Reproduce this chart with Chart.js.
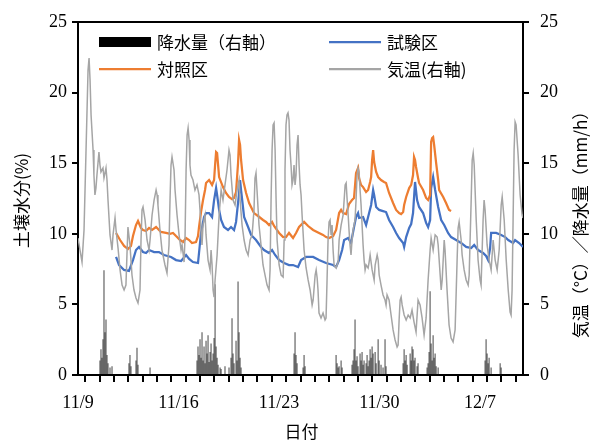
<!DOCTYPE html>
<html><head><meta charset="utf-8">
<script src="https://cdn.jsdelivr.net/npm/chart.js@4"></script>
<style>html,body{margin:0;padding:0;background:#fff}#wrap{width:591px;height:441px;position:relative}</style>
</head><body><div id="wrap"><canvas id="c"></canvas></div>
<script>
// x values are days since 11/9 00:00
const tickDays=[0,7,14,21,28];
const tickLabels=['11/9','11/16','11/23','11/30','12/7'];
const seriesNames=['降水量（右軸）','試験区','対照区','気温(右軸)'];
const axisTitles={left:'土壌水分(%)',right:'気温（°C）／降水量（mm/h）',bottom:'日付'};

// air temperature (°C), [day, value]
const airTemp=[[0,9.70],[.14,8.85],[.28,8.00],[.42,10.27],[.56,15.93],[.70,21.60],[.77,22.45],[.84,20.89],[.91,18.41],[1.05,15.93],[1.11,14.16],[1.18,12.75],[1.25,13.24],[1.32,14.16],[1.46,15.79],[1.53,14.87],[1.60,14.38],[1.74,14.66],[1.81,13.95],[1.95,14.66],[2.02,13.81],[2.09,12.39],[2.23,9.92],[2.37,8.85],[2.44,9.92],[2.58,11.12],[2.65,10.27],[2.79,8.99],[2.93,7.44],[3.07,6.37],[3.21,6.02],[3.34,6.37],[3.41,8.50],[3.48,10.48],[3.62,9.21],[3.76,7.08],[3.90,6.02],[4.04,5.45],[4.18,5.10],[4.32,6.02],[4.39,9.56],[4.46,11.69],[4.53,11.90],[4.67,10.98],[4.81,9.56],[4.95,8.85],[5.02,9.56],[5.16,11.33],[5.30,12.39],[5.44,13.10],[5.51,12.75],[5.57,12.04],[5.71,10.27],[5.85,8.85],[6.06,7.79],[6.20,7.22],[6.34,9.21],[6.41,12.39],[6.48,14.87],[6.55,15.44],[6.69,14.52],[6.76,13.10],[6.90,11.33],[7.04,9.92],[7.18,8.85],[7.25,9.21],[7.39,8.00],[7.46,9.92],[7.53,14.52],[7.60,16.99],[7.67,17.49],
[7.74,16.64],[7.80,14.87],[7.87,14.16],[8.01,13.81],[8.15,13.10],[8.29,13.46],[8.43,12.75],[8.50,11.69],[8.57,10.27],[8.64,9.21],[8.71,10.62],[8.85,11.33],[8.92,9.92],[9.06,8.14],[9.20,7.44],[9.27,8.85],[9.34,7.79],[9.41,6.02],[9.48,5.52],[9.55,6.73],[9.69,8.50],[9.83,11.33],[9.97,13.10],[10.10,12.39],[10.24,13.46],[10.38,14.52],[10.52,15.93],[10.59,15.58],[10.66,14.16],[10.80,12.39],[10.94,12.04],[11.08,13.10],[11.22,13.81],[11.29,12.39],[11.43,10.62],[11.57,9.56],[11.71,8.85],[11.85,8.50],[11.99,9.56],[12.13,9.92],[12.26,11.69],[12.33,13.95],[12.40,14.31],[12.47,13.10],[12.61,10.62],[12.75,9.21],[12.89,7.79],[13.03,7.08],[13.17,6.37],[13.31,6.02],[13.38,7.44],[13.45,12.39],[13.52,15.93],[13.59,17.71],[13.66,17.85],[13.73,15.93],[13.80,12.39],[13.87,9.56],[14.01,7.79],[14.15,7.08],[14.29,6.94],[14.36,9.56],[14.42,14.52],[14.49,17.71],[14.56,18.41],[14.63,18.56],[14.70,18.06],[14.77,15.93],[14.84,14.87],[14.91,13.46],[14.98,13.81],[15.05,14.87],[15.12,13.46],[15.19,14.16],[15.26,16.29],[15.33,17.00],
[15.40,14.87],[15.47,13.46],[15.54,12.75],[15.61,11.33],[15.75,8.85],[15.89,7.58],[16.03,6.73],[16.17,6.02],[16.31,4.96],[16.38,5.31],[16.52,7.08],[16.59,7.44],[16.66,6.87],[16.72,6.02],[16.79,4.39],[16.93,4.04],[17.07,4.39],[17.21,3.90],[17.28,4.04],[17.35,6.73],[17.42,9.56],[17.49,10.84],[17.56,10.98],[17.63,9.92],[17.70,10.62],[17.77,8.85],[17.84,7.79],[17.98,7.58],[18.12,8.00],[18.19,9.56],[18.33,10.62],[18.47,11.33],[18.54,12.39],[18.61,13.46],[18.68,13.60],[18.75,12.39],[18.82,11.33],[18.88,10.27],[18.95,9.21],[19.02,8.50],[19.09,9.56],[19.16,10.27],[19.23,10.62],[19.30,10.98],[19.37,12.39],[19.44,14.16],[19.51,14.66],[19.58,14.38],[19.65,13.10],[19.72,12.04],[19.79,10.62],[19.86,9.21],[19.93,8.14],[20.00,7.44],[20.07,7.79],[20.21,7.58],[20.28,8.00],[20.35,8.50],[20.49,7.44],[20.63,6.73],[20.70,7.79],[20.84,8.50],[20.91,8.14],[20.98,7.08],[21.11,6.37],[21.25,5.67],[21.39,5.31],[21.46,4.96],[21.53,5.67],[21.67,5.31],[21.81,4.25],[21.95,3.19],[22.09,2.48],[22.23,1.98],[22.30,2.12],[22.37,3.90],[22.44,5.31],[22.51,5.52],[22.58,4.96],[22.72,4.25],[22.86,3.90],[23.00,4.25],
[23.14,4.04],[23.27,4.60],[23.41,3.75],[23.55,3.05],[23.69,5.31],[23.83,4.96],[23.97,4.04],[24.11,2.83],[24.25,4.04],[24.39,6.73],[24.53,8.85],[24.60,9.70],[24.74,8.85],[24.88,9.92],[25.02,9.77],[25.09,9.21],[25.23,7.08],[25.30,6.02],[25.37,6.73],[25.51,9.56],[25.57,8.85],[25.71,6.02],[25.85,3.54],[25.99,2.62],[26.13,2.34],[26.27,3.19],[26.41,8.14],[26.48,10.41],[26.55,10.84],[26.69,9.56],[26.76,8.50],[26.90,7.44],[27.04,6.73],[27.18,6.37],[27.25,7.08],[27.39,12.39],[27.46,15.23],[27.53,15.72],[27.60,14.87],[27.74,10.98],[27.87,8.14],[28.01,6.73],[28.08,6.37],[28.22,10.98],[28.29,12.39],[28.36,11.69],[28.50,9.21],[28.64,8.14],[28.78,7.44],[28.92,9.56],[29.06,8.14],[29.20,7.44],[29.34,8.85],[29.48,12.04],[29.55,12.61],[29.69,10.98],[29.83,8.14],[29.97,6.02],[30.10,4.46],[30.17,4.25],[30.24,6.02],[30.31,10.98],[30.38,15.93],[30.45,17.92],[30.52,17.71],[30.66,15.58],[30.80,12.75],[30.94,11.33],[31.00,11.12]];

// 対照区 soil moisture (%)
const controlPlot=[[2.65,10.06],[2.93,9.56],[3.21,9.14],[3.48,8.92],[3.69,9.14],[3.83,9.84],[4.04,10.62],[4.18,10.91],[4.39,10.41],[4.53,10.27],[4.74,10.20],[4.95,10.41],[5.16,10.27],[5.44,10.48],[5.78,10.13],[6.13,10.06],[6.41,9.99],[6.62,10.06],[6.83,9.84],[7.11,9.56],[7.32,9.42],[7.53,9.70],[7.74,9.56],[7.94,9.35],[8.22,9.42],[8.36,9.84],[8.43,10.48],[8.57,11.54],[8.71,12.39],[8.85,13.10],[8.92,13.60],[9.13,13.81],[9.34,13.46],[9.48,13.81],[9.55,14.87],[9.62,15.79],[9.69,15.72],[9.76,14.87],[9.83,14.02],[10.10,13.31],[10.31,12.89],[10.52,12.61],[10.73,12.46],[10.87,12.54],[11.01,12.96],[11.15,15.01],[11.22,16.64],[11.29,16.29],[11.36,15.23],[11.50,13.81],[11.71,12.89],[11.92,12.18],[12.26,11.47],[12.54,11.26],[12.89,10.98],[13.10,10.84],[13.31,10.62],[13.52,10.84],[13.66,10.55],[14.01,10.06],[14.29,9.77],[14.49,9.77],[14.70,10.06],[14.98,9.70],[15.19,10.06],[15.40,10.48],[15.75,10.84],[16.03,10.55],[16.38,10.27],[16.79,10.06],[17.07,9.92],[17.28,9.77],[17.49,9.70],[17.77,9.84],[17.98,10.27],[18.19,11.47],[18.33,11.69],[18.47,11.47],[18.68,11.40],[18.88,12.11],[19.09,12.39],[19.23,12.54],[19.37,14.31],[19.51,14.66],[19.58,13.95],[19.72,13.46],[19.86,13.31],[20.07,12.96],[20.21,13.10],[20.35,13.67],[20.42,14.02],[20.49,15.23],[20.56,15.93],[20.63,15.08],[20.77,14.38],[20.91,14.02],[21.11,13.81],[21.32,13.67],[21.46,13.60],[21.67,12.89],[21.95,12.18],[22.16,11.69],[22.37,11.47],[22.51,11.40],[22.65,11.54],[22.72,12.04],[22.86,12.61],[23.07,13.24],[23.21,13.46],[23.34,14.16],[23.41,15.44],[23.48,15.23],[23.55,14.73],[23.69,13.95],[23.76,13.60],[24.04,13.10],[24.25,12.54],[24.39,12.39],[24.53,12.75],[24.60,16.50],[24.67,16.78],[24.74,16.85],[24.81,16.29],[24.95,15.01],[25.09,13.81],[25.16,13.10],[25.44,12.61],[25.64,12.18],[25.85,11.69],[25.99,11.61]];

// 試験区 soil moisture (%)
const testPlot=[[2.65,8.36],[2.86,7.79],[3.21,7.44],[3.55,7.37],[3.83,8.14],[4.04,8.85],[4.25,9.07],[4.53,8.71],[4.74,8.64],[4.95,8.85],[5.30,8.71],[5.64,8.71],[5.99,8.50],[6.48,8.36],[6.83,8.14],[7.18,8.07],[7.53,8.50],[7.74,8.22],[8.01,8.00],[8.36,7.93],[8.43,8.64],[8.57,10.06],[8.78,11.19],[8.92,11.47],[9.13,11.47],[9.34,11.19],[9.48,12.39],[9.62,13.24],[9.69,12.75],[9.83,11.69],[9.97,10.98],[10.17,10.48],[10.45,10.27],[10.66,10.48],[10.87,10.27],[11.01,10.84],[11.22,12.89],[11.29,13.81],[11.36,13.10],[11.57,11.19],[11.85,10.48],[12.06,9.92],[12.40,9.56],[12.75,9.07],[12.96,8.85],[13.31,8.64],[13.52,8.85],[13.73,8.50],[14.01,8.14],[14.36,7.93],[14.70,7.79],[14.98,7.79],[15.33,7.65],[15.54,8.14],[15.89,8.36],[16.38,8.36],[16.79,8.14],[17.28,7.93],[17.77,7.79],[17.98,7.65],[18.19,8.14],[18.40,8.85],[18.54,9.56],[18.82,9.70],[19.02,9.35],[19.23,10.48],[19.37,11.19],[19.51,11.47],[19.58,11.12],[19.86,11.19],[20.07,10.62],[20.28,11.47],[20.42,12.04],[20.56,13.10],[20.63,12.75],[20.77,11.90],[20.98,11.69],[21.25,11.61],[21.46,11.54],[21.67,10.98],[21.95,10.48],[22.16,10.06],[22.37,9.70],[22.65,9.35],[22.72,9.07],[22.86,9.77],[23.07,10.41],[23.21,10.69],[23.34,11.47],[23.48,13.67],[23.62,12.39],[23.76,11.90],[24.04,11.47],[24.25,10.77],[24.39,10.48],[24.53,10.98],[24.60,13.24],[24.74,14.02],[24.88,13.10],[25.09,11.90],[25.30,10.98],[25.51,10.62],[25.78,10.06],[25.99,9.77],[26.34,9.56],[26.69,9.35],[27.04,9.07],[27.39,8.99],[27.60,9.21],[27.87,8.85],[28.22,8.64],[28.43,8.43],[28.57,8.14],[28.71,8.99],[28.78,10.06],[29.13,10.06],[29.48,9.92],[29.76,9.77],[29.97,9.56],[30.31,9.35],[30.45,9.56],[30.73,9.35],[31.00,9.07]];

// hourly precipitation (mm/h)
const rainfall=[[1.53,1.0],[1.60,1.8],[1.67,1.2],[1.74,2.5],[1.81,7.4],[1.88,3.0],[1.95,3.9],[2.02,1.4],[2.09,0.8],[2.23,0.5],[2.37,0.6],
[3.55,0.8],[3.62,1.4],[3.69,0.6],[4.04,1.0],[4.11,1.9],[4.18,0.7],[5.02,0.5],
[8.29,1.0],[8.36,2.0],[8.43,1.4],[8.50,2.5],[8.57,1.2],[8.64,3.0],[8.71,1.0],[8.78,2.0],[8.85,0.8],[8.92,2.4],[8.99,1.5],[9.06,2.8],[9.13,0.9],[9.20,1.6],[9.27,2.2],[9.34,1.0],[9.41,1.5],[9.48,2.6],[9.55,6.4],[9.62,2.0],[9.69,1.2],[9.76,0.7],[9.90,0.5],[9.97,0.4],[10.24,0.6],[10.52,0.5],[10.66,1.2],[10.73,4.0],[10.80,1.5],[10.87,0.8],[11.01,2.4],[11.08,1.0],[11.15,6.6],[11.22,3.0],[11.29,1.2],[11.36,0.5],
[15.05,1.5],[15.12,3.0],[15.19,1.4],[15.26,0.8],[15.68,0.5],[15.75,1.4],[15.82,0.6],
[17.98,1.4],[18.05,0.8],[18.12,0.5],[18.19,0.6],[18.33,1.0],[18.40,0.5],[19.09,0.7],[19.16,1.0],[19.23,1.8],[19.30,3.9],[19.37,1.0],[19.44,1.3],[19.51,0.6],[19.65,1.5],[19.72,1.0],[19.79,1.6],[19.86,0.7],[19.93,1.0],[20.07,0.8],[20.14,1.4],[20.21,0.6],[20.28,1.0],[20.35,1.8],[20.42,1.2],[20.49,2.0],[20.56,1.5],[20.70,1.6],[20.77,0.8],[20.91,2.5],[20.98,1.0],[21.11,0.7],[21.25,0.5],[21.39,2.5],[21.46,0.6],
[22.65,0.8],[22.72,1.8],[22.79,1.0],[22.86,1.4],[22.93,0.7],[23.14,1.5],[23.21,1.0],[23.27,2.0],[23.34,1.8],[23.41,1.0],[23.48,1.2],[23.62,0.6],[23.69,0.8],[24.32,0.5],[24.39,0.8],[24.46,1.6],[24.53,5.9],[24.60,2.2],[24.67,1.0],[24.74,2.8],[24.81,1.2],[24.88,1.5],[24.95,0.6],[25.09,0.5],
[28.36,1.0],[28.43,2.5],[28.50,1.5],[28.57,0.8],[28.64,1.2],[28.78,0.5],[29.41,0.8],[29.48,0.5]];

const toXY=a=>a.map(p=>({x:p[0],y:p[1]}));
const FONT="'Liberation Serif','Noto Sans CJK JP',serif";
const JFONT="'Noto Sans CJK JP','Liberation Serif',sans-serif";
const COLORS={rain:'#000000',test:'#4472c4',ctrl:'#ed7d31',temp:'#a5a5a5'};

const deco={id:'deco',afterDraw(ch){
  const {ctx,chartArea:a}=ch;
  ctx.save();
  ctx.strokeStyle='#000';ctx.lineWidth=2;
  ctx.beginPath();ctx.moveTo(a.left-1,a.top);ctx.lineTo(a.right+1,a.top);ctx.stroke();
  // legend
  ctx.font='17px '+JFONT;ctx.fillStyle='#000';ctx.textBaseline='middle';ctx.textAlign='left';
  const items=[
    {name:seriesNames[0],kind:'box',color:COLORS.rain,col:0,row:0},
    {name:seriesNames[1],kind:'line',color:COLORS.test,col:1,row:0},
    {name:seriesNames[2],kind:'line',color:COLORS.ctrl,col:0,row:1},
    {name:seriesNames[3],kind:'line',color:COLORS.temp,col:1,row:1}];
  items.forEach(it=>{
    const x0=a.left+21+it.col*230, y0=a.top+20+it.row*27;
    if(it.kind==='box'){ctx.fillStyle=it.color;ctx.fillRect(x0,y0-5,52,10);}
    else{ctx.strokeStyle=it.color;ctx.lineWidth=2.25;ctx.beginPath();ctx.moveTo(x0,y0);ctx.lineTo(x0+52,y0);ctx.stroke();}
    ctx.fillStyle='#000';ctx.fillText(it.name,x0+58,y0+1);
  });
  // axis titles
  ctx.font='17px '+JFONT;ctx.textAlign='center';ctx.textBaseline='middle';
  ctx.fillText(axisTitles.bottom,(a.left+a.right)/2+1,432);
  ctx.save();ctx.translate(22,(a.top+a.bottom)/2+2);ctx.rotate(-Math.PI/2);ctx.fillText(axisTitles.left,0,0);ctx.restore();
  ctx.save();ctx.translate(581,(a.top+a.bottom)/2+22);ctx.rotate(-Math.PI/2);ctx.fillText(axisTitles.right,0,0);ctx.restore();
  ctx.restore();
}};

const yCommon=(pos,w,pad)=>({type:'linear',position:pos,min:0,max:25,
  afterFit(s){s.width=w;},
  ticks:{stepSize:5,padding:pad,color:'#000',font:{family:FONT,size:18}},
  grid:{drawOnChartArea:false,drawTicks:true,tickLength:6,color:'#000',lineWidth:2},
  border:{display:true,color:'#000',width:2}});

new Chart(document.getElementById('c'),{
  type:'line',
  data:{datasets:[
    {label:seriesNames[3],data:toXY(airTemp),yAxisID:'y2',borderColor:COLORS.temp,borderWidth:1.5,pointRadius:0,tension:0,order:0},
    {label:seriesNames[2],data:toXY(controlPlot),yAxisID:'y',borderColor:COLORS.ctrl,borderWidth:2.25,pointRadius:0,tension:0,order:1},
    {label:seriesNames[1],data:toXY(testPlot),yAxisID:'y',borderColor:COLORS.test,borderWidth:2.25,pointRadius:0,tension:0,order:2},
    {type:'bar',label:seriesNames[0],data:toXY(rainfall),yAxisID:'y2',backgroundColor:'rgba(0,0,0,0.5)',barThickness:0.8,grouped:false,order:3}
  ]},
  options:{
    responsive:true,maintainAspectRatio:false,animation:false,devicePixelRatio:1,
    layout:{padding:{top:22,left:0,right:0,bottom:0}},
    plugins:{legend:{display:false},tooltip:{enabled:false}},
    scales:{
      x:{type:'linear',min:0,max:31,offset:false,
        afterFit(s){s.height=66;},
        ticks:{stepSize:1,maxTicksLimit:40,autoSkip:false,maxRotation:0,padding:10,color:'#000',font:{family:FONT,size:18},
          callback:v=>{const i=tickDays.indexOf(v);return i>=0?tickLabels[i]:'';}},
        grid:{drawOnChartArea:false,drawTicks:true,tickLength:7,color:'#000',lineWidth:2},
        border:{display:true,color:'#000',width:2}},
      y:yCommon('left',78,5),
      y2:yCommon('right',68,11)
    }
  },
  plugins:[deco]
});
</script></body></html>
